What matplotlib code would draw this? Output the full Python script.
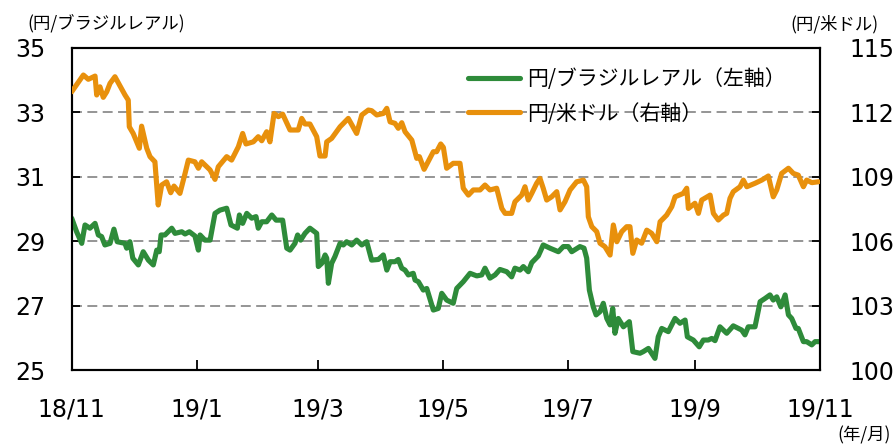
import matplotlib
matplotlib.use("Agg")
import matplotlib.pyplot as plt
import matplotlib.dates as mdates
import pandas as pd

START = pd.Timestamp("2018-11-01")

# 円/米ドル (right axis), days since 2018-11-01
usd_days = [
    0, 5.7, 8.1, 11.4, 12.2, 13.8, 15.4, 17.1, 18.7, 21.1,
    23.6, 26.0, 27.6, 28.1, 30.0, 33.0, 34.1, 36.6, 38.2, 40.6,
    42.2, 43.9, 46.3, 48.3, 49.9, 52.8, 55.3, 56.9, 60.1, 61.8,
    63.4, 67.5, 69.9, 71.5, 75.6, 78.0, 81.3, 83.4, 85.0, 88.6,
    91.0, 92.7, 95.1, 96.7, 98.7, 100.8, 102.9, 106.5, 110.5, 112.2,
    113.8, 116.2, 119.5, 121.1, 123.6, 124.4, 126.8, 130.9, 134.9, 139.0,
    141.5, 144.7, 146.3, 148.8, 152.0, 153.7, 155.3, 157.7, 159.3, 161.0,
    162.6, 165.9, 168.3, 169.6, 171.9, 176.4, 178.0, 180.0, 181.3, 182.9,
    186.1, 189.4, 191.0, 193.5, 195.9, 199.2, 201.6, 204.0, 207.3, 209.8,
    211.4, 214.6, 216.2, 219.5, 221.1, 222.7, 224.4, 226.8, 228.4, 230.0,
    231.7, 234.1, 236.6, 238.2, 240.6, 243.1, 246.3, 249.6, 251.2, 252.0,
    253.7, 256.1, 257.7, 260.1, 262.6, 264.2, 265.9, 268.3, 270.7, 272.3,
    273.7, 275.6, 278.0, 280.5, 282.9, 285.4, 287.0, 290.2, 292.7, 294.3,
    298.3, 300.0, 300.8, 304.0, 305.7, 307.3, 311.4, 313.0, 315.4, 317.9,
    319.5, 321.1, 322.7, 326.0, 327.6, 329.3, 333.3, 336.6, 339.8, 342.2,
    343.9, 346.3, 349.6, 352.0, 354.4, 356.9, 358.5, 361.0, 364.2,
]
usd_vals = [
    112.95, 113.73, 113.53, 113.68, 112.80, 113.18, 112.69, 112.95, 113.34, 113.65,
    113.22, 112.80, 112.56, 111.32, 111.01, 110.32, 111.35, 110.32, 109.93, 109.69,
    107.68, 108.61, 108.76, 108.25, 108.56, 108.22, 109.15, 109.77, 109.69, 109.39,
    109.69, 109.31, 108.87, 109.46, 109.93, 109.77, 110.39, 111.01, 110.52, 110.62,
    110.86, 110.67, 111.09, 110.62, 111.94, 111.79, 111.91, 111.17, 111.17, 111.71,
    111.45, 111.45, 110.86, 109.96, 109.96, 110.62, 110.78, 111.32, 111.71, 111.01,
    111.87, 112.10, 112.07, 111.87, 111.94, 112.18, 111.55, 111.48, 111.25, 111.51,
    111.09, 110.70, 109.85, 109.93, 109.34, 110.16, 110.16, 110.52, 110.36, 109.39,
    109.62, 109.62, 108.46, 108.14, 108.38, 108.38, 108.61, 108.38, 108.46, 107.52,
    107.29, 107.29, 107.83, 108.14, 108.53, 107.91, 108.22, 108.69, 108.92, 108.46,
    107.91, 108.06, 108.30, 107.45, 107.83, 108.38, 108.76, 108.84, 108.53, 107.13,
    106.67, 106.44, 105.90, 105.74, 105.35, 106.75, 105.97, 106.44, 106.67, 106.67,
    105.43, 106.05, 105.90, 106.51, 106.36, 105.97, 106.90, 107.21, 107.60, 108.06,
    108.22, 108.46, 107.52, 107.76, 107.29, 107.91, 108.14, 107.29, 106.98, 107.21,
    107.29, 107.99, 108.30, 108.53, 108.84, 108.53, 108.69, 108.84, 109.03, 108.06,
    108.38, 109.15, 109.39, 109.15, 109.07, 108.53, 108.84, 108.72, 108.76,
]

# 円/ブラジルレアル (left axis)
brl_days = [
    0, 2.4, 4.9, 6.5, 8.9, 11.4, 13.0, 14.6, 16.2, 18.7,
    20.6, 22.2, 26.0, 26.8, 28.4, 29.8, 32.5, 34.9, 37.4, 39.8,
    41.5, 42.7, 43.6, 45.5, 48.8, 50.4, 53.7, 55.3, 57.4, 60.1,
    61.8, 62.6, 65.0, 67.5, 69.9, 72.3, 75.6, 77.7, 80.8, 81.8,
    83.4, 85.4, 87.8, 89.9, 91.0, 92.7, 95.1, 97.6, 99.7, 102.9,
    104.9, 106.5, 108.9, 110.2, 111.7, 113.8, 116.2, 119.5, 120.3, 122.0,
    123.6, 124.4, 125.2, 126.8, 128.4, 130.9, 132.5, 134.1, 136.6, 139.0,
    141.5, 143.9, 146.3, 149.6, 152.0, 153.7, 155.3, 157.7, 159.3, 161.0,
    162.6, 164.2, 166.6, 167.5, 169.1, 171.5, 173.2, 176.4, 178.8, 180.5,
    182.9, 186.1, 187.8, 191.0, 194.3, 197.6, 200.0, 201.6, 204.0, 206.5,
    208.9, 212.2, 214.6, 216.2, 218.7, 220.3, 222.7, 224.4, 227.6, 230.0,
    233.3, 237.4, 239.8, 242.2, 243.9, 247.9, 249.9, 251.2, 252.5, 254.4,
    255.8, 257.7, 259.3, 261.0, 262.6, 263.9, 265.0, 266.6, 269.1, 272.0,
    273.7, 277.2, 278.8, 281.3, 284.5, 286.1, 287.8, 291.0, 294.3, 296.7,
    299.2, 300.3, 303.2, 306.1, 308.1, 310.5, 312.2, 313.8, 316.2, 319.5,
    322.7, 326.8, 328.4, 330.0, 333.3, 335.8, 338.2, 340.6, 342.2, 343.9,
    345.9, 348.0, 349.6, 351.2, 353.3, 354.4, 356.9, 358.5, 361.0, 362.6,
    364.9,
]
brl_vals = [
    29.71, 29.29, 28.93, 29.50, 29.40, 29.55, 29.19, 29.14, 28.88, 28.93,
    29.37, 28.98, 28.93, 28.78, 28.98, 28.47, 28.26, 28.67, 28.41, 28.26,
    28.72, 28.67, 29.19, 29.19, 29.40, 29.24, 29.29, 29.22, 29.29, 29.16,
    28.72, 29.19, 29.03, 29.03, 29.86, 29.96, 30.02, 29.50, 29.40, 29.81,
    29.55, 29.86, 29.71, 29.76, 29.40, 29.60, 29.60, 29.81, 29.65, 29.65,
    28.78, 28.72, 28.93, 29.19, 29.03, 29.24, 29.40, 29.24, 28.21, 28.31,
    28.57, 28.47, 27.69, 28.31, 28.52, 28.93, 28.88, 28.98, 28.88, 29.03,
    28.88, 28.98, 28.41, 28.43, 28.57, 28.10, 28.36, 28.36, 28.43, 28.16,
    28.10, 27.95, 28.00, 27.79, 27.74, 27.48, 27.53, 26.86, 26.91, 27.38,
    27.17, 27.07, 27.53, 27.74, 28.00, 27.92, 27.95, 28.16, 27.85, 27.95,
    28.12, 28.05, 27.89, 28.16, 28.10, 28.21, 28.05, 28.33, 28.54, 28.88,
    28.78, 28.67, 28.83, 28.83, 28.67, 28.83, 28.78, 28.47, 27.48, 26.96,
    26.71, 26.81, 27.07, 26.60, 26.40, 26.91, 26.14, 26.60, 26.34, 26.50,
    25.57, 25.52, 25.57, 25.67, 25.36, 26.03, 26.29, 26.19, 26.60, 26.45,
    26.55, 26.03, 25.93, 25.72, 25.93, 25.93, 25.98, 25.91, 26.34, 26.14,
    26.37, 26.24, 26.09, 26.34, 26.34, 27.12, 27.22, 27.33, 27.17, 27.27,
    26.96, 27.33, 26.71, 26.60, 26.29, 26.29, 25.88, 25.88, 25.78, 25.88,
    25.88,
]

tick_dates = ["2018-11-01", "2019-01-01", "2019-03-01", "2019-05-01",
              "2019-07-01", "2019-09-01", "2019-11-01"]
tick_labels = ["18/11", "19/1", "19/3", "19/5", "19/7", "19/9", "19/11"]
left_ticks = [25, 27, 29, 31, 33, 35]
right_ticks = [100, 103, 106, 109, 112, 115]

GREEN = "#2e8b3a"
ORANGE = "#e8900c"
JP = ["Noto Sans CJK JP", "DejaVu Sans"]

plt.rcParams["font.family"] = ["DejaVu Sans", "Noto Sans CJK JP"]

usd_x = START + pd.to_timedelta(usd_days, unit="D")
brl_x = START + pd.to_timedelta(brl_days, unit="D")

fig = plt.figure(figsize=(8.95, 4.46), dpi=100)
ax = fig.add_axes([0.0801, 0.1704, 0.8361, 0.7226])
ax2 = ax.twinx()

for g in [27, 29, 31, 33]:
    ax.axhline(g, color="#8c8c8c", lw=1.3, ls=(0, (5.5, 3)), zorder=1)

l1, = ax.plot(brl_x, brl_vals, color=GREEN, lw=3.7, solid_capstyle="round",
              solid_joinstyle="round", zorder=3, label="円/ブラジルレアル（左軸）")
l2, = ax2.plot(usd_x, usd_vals, color=ORANGE, lw=3.7, solid_capstyle="round",
               solid_joinstyle="round", zorder=3, label="円/米ドル（右軸）")

ax.set_xlim(mdates.date2num(pd.Timestamp(tick_dates[0])),
            mdates.date2num(pd.Timestamp(tick_dates[-1])))
ax.set_xticks([mdates.date2num(pd.Timestamp(d)) for d in tick_dates])
ax.set_xticklabels(tick_labels)
ax.set_ylim(25, 35)
ax.set_yticks(left_ticks)
ax2.set_ylim(100, 115)
ax2.set_yticks(right_ticks)

ax.tick_params(axis="x", direction="in", length=7, width=1.3, labelsize=17, pad=20)
ax.tick_params(axis="y", direction="in", length=6, width=1.3, labelsize=17, pad=19)
ax2.tick_params(axis="y", direction="in", length=6, width=1.3, labelsize=17, pad=21)
ax2.tick_params(axis="x", which="both", length=0)
for a in (ax, ax2):
    for s in a.spines.values():
        s.set_linewidth(1.5)
        s.set_color("black")

fig.text(0.031, 0.946, "(円/ブラジルレアル)", fontsize=12.5, family=JP,
         ha="left", va="center")
fig.text(0.982, 0.946, "(円/米ドル)", fontsize=12.5, family=JP,
         ha="right", va="center")
fig.text(0.995, 0.024, "(年/月)", fontsize=12.5, family=JP,
         ha="right", va="center")

leg = ax2.legend(handles=[l1, l2], loc="center left",
                 bbox_to_anchor=(468 / 895, 1 - 96.5 / 446),
                 bbox_transform=fig.transFigure, frameon=False,
                 prop={"family": JP, "size": 15}, handlelength=2.5,
                 handletextpad=0.35, labelspacing=0.6, borderpad=0,
                 borderaxespad=0)

fig.savefig("out.png", dpi=100)
